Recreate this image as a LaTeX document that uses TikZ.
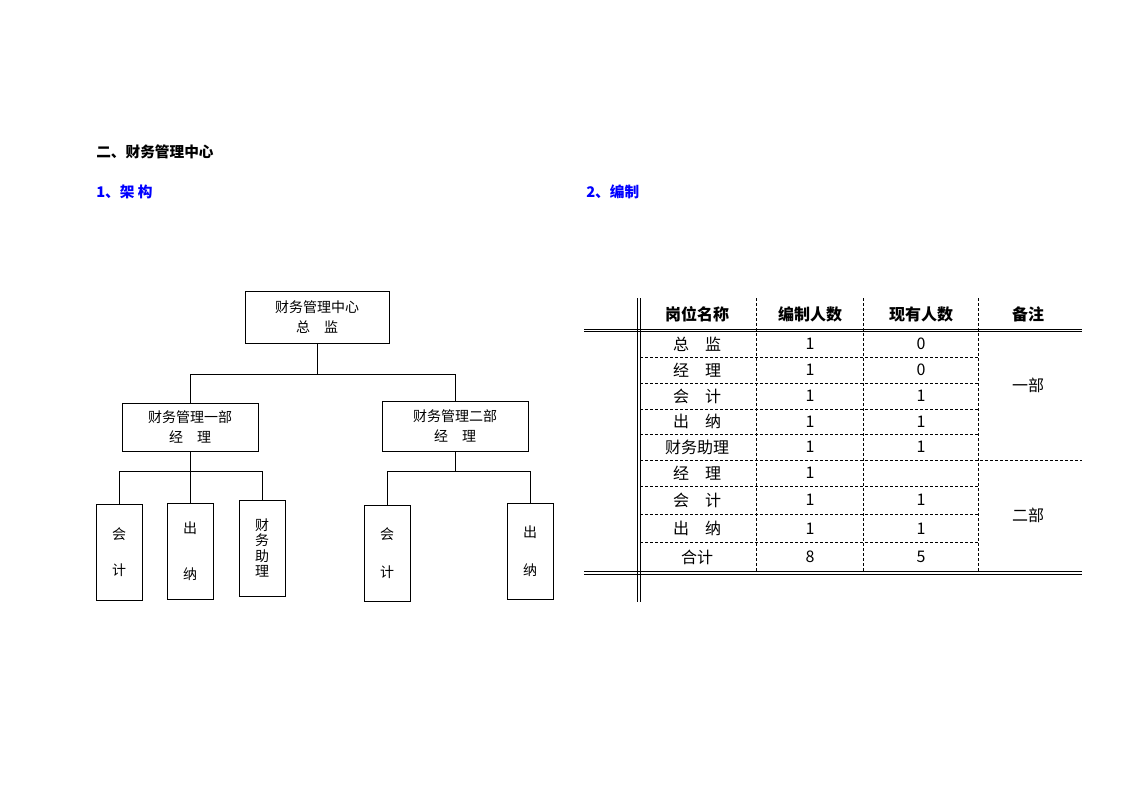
\documentclass[tikz,border=0pt]{standalone}
\usepackage{fontspec}
\setmainfont{Noto Sans CJK SC}
\begin{document}
\begin{tikzpicture}[x=0.75pt,y=-0.75pt]
  \tikzset{box/.style={draw,line width=0.75pt,inner sep=0pt,align=center,font=\fontsize{10.5}{15}\selectfont},
    leaf/.style={box,minimum width=34.5pt,minimum height=72pt},
    head/.style={inner sep=0pt,anchor=west,font=\fontsize{11}{13}\selectfont\bfseries},
    cell/.style={inner sep=0pt,font=\fontsize{12}{14}\selectfont},
    link/.style={line width=0.75pt},
    grid/.style={line width=0.75pt,dash pattern=on 2.25pt off 1.5pt},
    rule/.style={line width=0.75pt}}
  \useasboundingbox (0,0) rectangle (1123,794);
  \fill[white] (0,0) rectangle (1123,794);
  %titles
  \node[head] (TITLE) at (96,152) {二、财务管理中心};
  \node[head,text=blue] (SEC1) at (96,192) {1、架\ 构};
  \node[head,text=blue] (SEC2) at (586,192) {2、编制};
  %boxes
  \node[box,minimum width=108pt,minimum height=39pt] (TOP) at (317,317) {财务管理中心\\总\quad 监};
  \node[box,minimum width=102pt,minimum height=36pt] (DEPT1) at (190,427) {财务管理一部\\经\quad 理};
  \node[box,minimum width=109.5pt,minimum height=37.5pt] (DEPT2) at (455,426) {财务管理二部\\经\quad 理};
  \node[leaf] (ACC1) at (119,552) {会\\[12pt]计};
  \node[leaf] (CSH1) at (190,551) {出\\[19pt]纳};
  \node[leaf,font=\fontsize{10.5}{11.5}\selectfont] (AST1) at (262,548) {财\\务\\助\\理};
  \node[leaf] (ACC2) at (387,553) {会\\[13pt]计};
  \node[leaf] (CSH2) at (530,551) {出\\[13pt]纳};
  %links
  \coordinate (BUS) at (317,374);
  \coordinate (BUSA) at (190,471);
  \coordinate (BUSB) at (455,471);
  \draw[link] (TOP.south) -- (BUS);
  \draw[link] (DEPT1.north) |- (BUS) -| (DEPT2.north);
  \draw[link] (DEPT1.south) -- (BUSA);
  \draw[link] (ACC1.north) |- (BUSA) -| (AST1.north);
  \draw[link] (CSH1.north) -- (BUSA);
  \draw[link] (DEPT2.south) -- (BUSB);
  \draw[link] (ACC2.north) |- (BUSB) -| (CSH2.north);
  %table rules
  \draw[rule] (637.5,298) -- (637.5,602) (640,298) -- (640,602);
  \draw[rule] (584,329) -- (1082,329) (584,331.5) -- (1082,331.5);
  \draw[rule] (584,571.5) -- (1082,571.5) (584,574) -- (1082,574);
  \draw[grid] (756,298) -- (756,571.5) (863,298) -- (863,571.5) (978,298) -- (978,571.5);
  \draw[grid] (640,357) -- (978,357) (640,383) -- (978,383) (640,409) -- (978,409)
    (640,434.5) -- (978,434.5) (640,460.5) -- (1082,460.5) (640,486) -- (978,486)
    (640,514) -- (978,514) (640,542.5) -- (978,542.5);
  %table header
  \node[cell,font=\fontsize{12}{14}\selectfont\bfseries] (H1) at (697,314) {岗位名称};
  \node[cell,font=\fontsize{12}{14}\selectfont\bfseries] (H2) at (810,314) {编制人数};
  \node[cell,font=\fontsize{12}{14}\selectfont\bfseries] (H3) at (921,314) {现有人数};
  \node[cell,font=\fontsize{12}{14}\selectfont\bfseries] (H4) at (1028,314) {备注};
  %table rows
  \node[cell] (N1) at (697,344) {总\quad 监};
  \node[cell] (A1) at (810,344) {1};
  \node[cell] (B1) at (921,344) {0};
  \node[cell] (N2) at (697,370) {经\quad 理};
  \node[cell] (A2) at (810,370) {1};
  \node[cell] (B2) at (921,370) {0};
  \node[cell] (N3) at (697,396) {会\quad 计};
  \node[cell] (A3) at (810,396) {1};
  \node[cell] (B3) at (921,396) {1};
  \node[cell] (N4) at (697,421.5) {出\quad 纳};
  \node[cell] (A4) at (810,421.5) {1};
  \node[cell] (B4) at (921,421.5) {1};
  \node[cell] (N5) at (697,447) {财务助理};
  \node[cell] (A5) at (810,447) {1};
  \node[cell] (B5) at (921,447) {1};
  \node[cell] (N6) at (697,473) {经\quad 理};
  \node[cell] (A6) at (810,473) {1};
  \node[cell] (N7) at (697,500) {会\quad 计};
  \node[cell] (A7) at (810,500) {1};
  \node[cell] (B7) at (921,500) {1};
  \node[cell] (N8) at (697,528.5) {出\quad 纳};
  \node[cell] (A8) at (810,528.5) {1};
  \node[cell] (B8) at (921,528.5) {1};
  \node[cell] (N9) at (697,557) {合计};
  \node[cell] (A9) at (810,557) {8};
  \node[cell] (B9) at (921,557) {5};
  \node[cell] (P1) at (1028,385) {一部};
  \node[cell] (P2) at (1028,515) {二部};
\end{tikzpicture}
\end{document}
